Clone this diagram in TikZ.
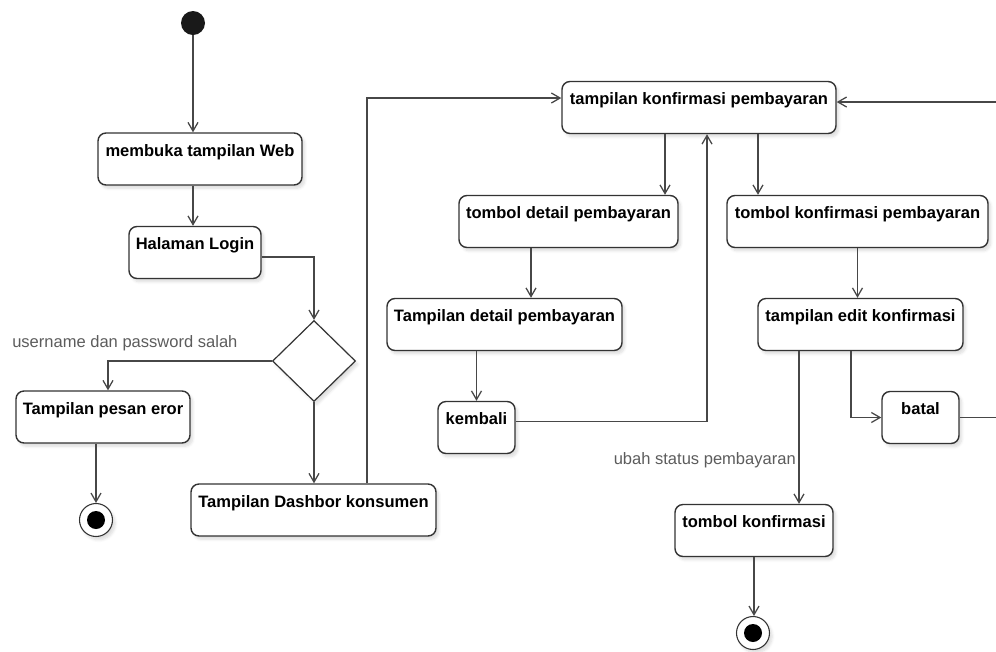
\documentclass[tikz,border=0pt]{standalone}
\usepackage{fontspec}
\setmainfont{Liberation Sans}
\usetikzlibrary{arrows.meta,calc,shapes.geometric,shadows.blur}
\definecolor{edgecol}{HTML}{474747}
\definecolor{framecol}{HTML}{333333}
\definecolor{notecol}{HTML}{5C5C5C}
\tikzset{
  soft/.style={blur shadow={shadow blur steps=6, shadow xshift=2pt, shadow yshift=-2.5pt, shadow opacity=14}},
  act/.style={draw=framecol, line width=1.05pt, rounded corners=6pt, fill=white,
    inner sep=0pt, text height=17.25pt, text depth=21.75pt, align=center,
    font=\fontsize{12.4}{14}\selectfont\bfseries, soft},
  decide/.style={diamond, draw=framecol, line width=0.9pt, fill=white, inner sep=0pt,
    minimum width=62.25pt, minimum height=60.75pt, soft},
  initial/.style={circle, fill=black!90, inner sep=0pt, minimum size=18pt},
  final/.style={circle, draw=framecol, line width=0.8pt, fill=white, inner sep=0pt,
    minimum size=24.75pt, soft,
    path picture={\fill[black] (path picture bounding box.center) circle (6.75pt);}},
  flow/.style={draw=edgecol, line width=0.95pt, -{Straight Barb[length=6.5pt,width=7.5pt]}},
  plain/.style={draw=edgecol, line width=0.95pt},
  note/.style={font=\fontsize{12.4}{14}\selectfont, text=notecol, inner sep=0pt}
}
\begin{document}
\begin{tikzpicture}[x=0.75pt,y=-0.75pt]
\useasboundingbox (0,0) rectangle (996,651);

% start and activities
\node[initial] (start) at (193,23) {};
\node[act, minimum width=153pt]    (web)   at (200,159)   {membuka tampilan Web};
\node[act, minimum width=99pt]     (login) at (195,252.5) {Halaman Login};
\node[decide]                      (dia)   at (314,361)   {};
\node[act, minimum width=130.5pt]  (err)   at (103,417)   {Tampilan pesan eror};
\node[final]                       (fin1)  at (96,520)    {};
\node[act, minimum width=183.75pt] (dash)  at (313.5,510) {Tampilan Dashbor konsumen};

\node[act, minimum width=205.5pt]  (konf)  at (699,107.5) {tampilan konfirmasi pembayaran};
\node[act, minimum width=164.25pt] (tdet)  at (568.5,221.5) {tombol detail pembayaran};
\node[act, minimum width=176.25pt] (Tdet)  at (504.5,324.5) {Tampilan detail pembayaran};
\node[act, minimum width=57.75pt]  (back)  at (476.5,427.5) {kembali};
\node[act, minimum width=195.75pt] (tkp)   at (857.5,221.5) {tombol konfirmasi pembayaran};
\node[act, minimum width=153.75pt] (edit)  at (860.5,324.5) {tampilan edit konfirmasi};
\node[act, minimum width=57.75pt]  (batal) at (920.5,417.5) {batal};
\node[act, minimum width=118.5pt]  (tk)    at (754,530.5) {tombol konfirmasi};
\node[final]                       (fin2)  at (753,633)   {};

% guard labels
\node[note, anchor=base west] (g1) at (12,347)  {username dan password salah};
\node[note, anchor=base east] (g2) at (796,464) {ubah status pembayaran};

% branch points
\coordinate (dashOut)  at ($(dash.north)+(53.5,0)$);
\coordinate (konfIn)   at ($(konf.west)+(0,-9.5)$);
\coordinate (konfA)    at ($(konf.south)+(-34,0)$);
\coordinate (konfB)    at ($(konf.south)+(59,0)$);
\coordinate (konfBack) at ($(konf.south)+(8,0)$);
\coordinate (tdetOut)  at ($(tdet.south)+(-37.5,0)$);
\coordinate (backOut)  at ($(back.east)+(0,-6)$);
\coordinate (editA)    at ($(edit.south)+(-61.5,0)$);
\coordinate (editB)    at ($(edit.south)+(-9.5,0)$);
\coordinate (loginOut) at ($(login.east)+(0,4.5)$);
\coordinate (errIn)    at ($(err.north)+(5,0)$);
\coordinate (rightLow) at (996,417.5);
\coordinate (rightTop) at (996,102);
\coordinate (konfR)    at ($(konf.east)+(0,-5.5)$);

% login flow
\draw[flow] (start) -- (start |- web.north);
\draw[flow] (start |- web.south) -- (start |- login.north);
\draw[flow] (loginOut) -| (dia.north);
\draw[flow] (dia.west) -| (errIn);
\draw[flow] (fin1 |- err.south) -- (fin1.north);
\draw[flow] (dia.south) -- (dia.south |- dash.north);
\draw[flow] (dashOut) |- (konfIn);

% payment confirmation flow
\draw[flow] (konfA) -- (konfA |- tdet.north);
\draw[flow] (tdetOut) -- (tdetOut |- Tdet.north);
\draw[flow] (back |- Tdet.south) -- (back.north);
\draw[flow] (backOut) -| (konfBack);
\draw[flow] (konfB) -- (konfB |- tkp.north);
\draw[flow] (tkp.south) -- (tkp.south |- edit.north);
\draw[flow] (editA) -- (editA |- tk.north);
\draw[flow] (editB) |- (batal.west);
\draw[plain] (batal.east) -- (rightLow);
\draw[flow] (rightTop) -- (konfR);
\draw[flow] (tk.south) -- (tk.south |- fin2.north);
\end{tikzpicture}
\end{document}
